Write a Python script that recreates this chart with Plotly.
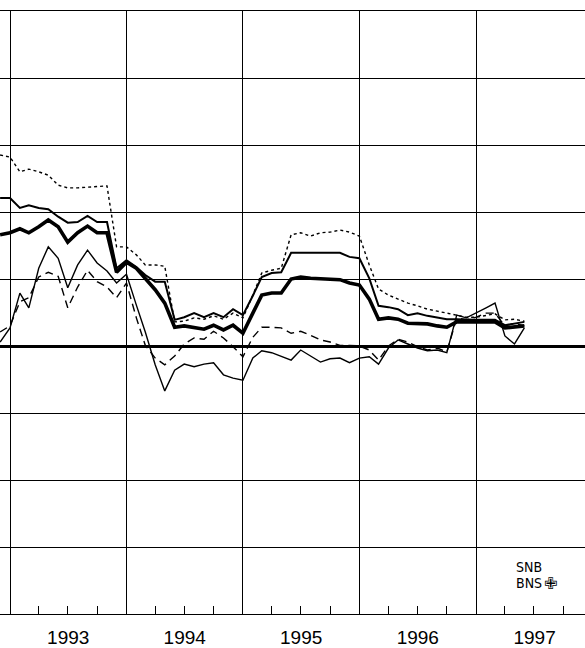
import pandas as pd
import plotly.graph_objects as go

# Monthly observations, Dec 1992 .. Jun 1997
dates = pd.date_range("1992-12-01", periods=55, freq="MS")

dotted_series = [2.85, 2.82, 2.60, 2.64, 2.60, 2.55, 2.40, 2.36, 2.36, 2.37, 2.39, 2.39,
                 1.48, 1.48, 1.36, 1.21, 1.21, 1.19, 0.36, 0.37, 0.42, 0.40, 0.45, 0.40,
                 0.49, 0.42, 0.76, 1.09, 1.13, 1.16, 1.66, 1.69, 1.64, 1.69, 1.70, 1.73,
                 1.70, 1.64, 1.21, 0.85, 0.76, 0.70, 0.64, 0.60, 0.55, 0.52, 0.49, 0.46,
                 0.43, 0.43, 0.46, 0.48, 0.39, 0.40, 0.37]

thin_upper = [2.21, 2.21, 2.06, 2.10, 2.06, 2.04, 1.93, 1.84, 1.85, 1.94, 1.85, 1.85,
              1.16, 1.28, 1.18, 1.06, 0.96, 0.96, 0.39, 0.43, 0.49, 0.43, 0.49, 0.43,
              0.55, 0.46, 0.75, 1.03, 1.09, 1.10, 1.39, 1.39, 1.39, 1.39, 1.39, 1.39,
              1.33, 1.31, 1.01, 0.60, 0.58, 0.55, 0.46, 0.49, 0.45, 0.42, 0.40, 0.40,
              0.39, 0.39, 0.39, 0.39, 0.31, 0.34, 0.36]

thick_series = [1.66, 1.69, 1.75, 1.69, 1.78, 1.88, 1.78, 1.55, 1.69, 1.79, 1.69, 1.69,
                1.10, 1.25, 1.16, 1.00, 0.84, 0.64, 0.28, 0.30, 0.28, 0.25, 0.31, 0.24,
                0.31, 0.19, 0.49, 0.76, 0.79, 0.79, 1.00, 1.03, 1.01, 1.00, 0.99, 0.99,
                0.94, 0.91, 0.70, 0.40, 0.42, 0.40, 0.34, 0.34, 0.33, 0.30, 0.28, 0.36,
                0.36, 0.36, 0.36, 0.36, 0.27, 0.28, 0.30]

dashed_series = [0.21, 0.30, 0.66, 0.72, 1.03, 1.10, 1.04, 0.57, 0.88, 1.13, 0.96, 0.88,
                 0.72, 0.94, 0.42, 0.01, -0.18, -0.28, -0.15, 0.03, 0.12, 0.10, 0.22, 0.12,
                 -0.01, -0.16, 0.13, 0.28, 0.28, 0.27, 0.19, 0.22, 0.16, 0.09, 0.06, 0.01,
                 0.01, 0.00, -0.06, -0.21, 0.00, 0.10, 0.06, -0.01, -0.06, -0.03, -0.09, 0.42,
                 0.39, 0.43, 0.49, 0.49, 0.30, 0.34, 0.30]

thin_lower = [0.06, 0.27, 0.79, 0.57, 1.16, 1.48, 1.31, 0.87, 1.21, 1.43, 1.24, 1.12,
              0.94, 1.07, 0.61, 0.21, -0.28, -0.67, -0.36, -0.27, -0.31, -0.27, -0.25, -0.43,
              -0.48, -0.51, -0.18, -0.07, -0.10, -0.15, -0.21, -0.06, -0.15, -0.24, -0.19, -0.18,
              -0.25, -0.18, -0.16, -0.27, -0.03, 0.09, 0.03, -0.03, -0.07, -0.06, -0.10, 0.46,
              0.42, 0.49, 0.57, 0.64, 0.15, 0.03, 0.27]

fig = go.Figure()
fig.add_trace(go.Scatter(x=dates, y=thin_lower, mode="lines",
                         line=dict(color="black", width=1.4)))
fig.add_trace(go.Scatter(x=dates, y=dashed_series, mode="lines",
                         line=dict(color="black", width=1.4, dash="8px,5px")))
fig.add_trace(go.Scatter(x=dates, y=dotted_series, mode="lines",
                         line=dict(color="black", width=1.4, dash="3px,3px")))
fig.add_trace(go.Scatter(x=dates, y=thin_upper, mode="lines",
                         line=dict(color="black", width=2.0)))
fig.add_trace(go.Scatter(x=dates, y=thick_series, mode="lines",
                         line=dict(color="black", width=3.6)))

fig.update_layout(
    width=585, height=648,
    margin=dict(l=0, r=0, t=11, b=34),
    paper_bgcolor="white", plot_bgcolor="white",
    showlegend=False,
    xaxis=dict(
        type="date",
        range=["1992-11-30 16:00", "1997-12-08"],
        tick0="1993-01-01", dtick="M12",
        ticklabelmode="period", tickformat="%Y",
        showgrid=True, gridcolor="black", gridwidth=1.2,
        showline=True, mirror=True, linecolor="black", linewidth=1.3,
        ticks="",
        minor=dict(dtick="M3", ticks="inside", ticklen=8, tickcolor="black",
                   tickwidth=1.2, showgrid=False),
        tickfont=dict(family="Liberation Sans, Arial", size=19, color="black"),
        ticklabelstandoff=6,
        fixedrange=True,
    ),
    yaxis=dict(
        range=[-4, 5], dtick=1, tick0=0,
        showgrid=True, gridcolor="black", gridwidth=1.2,
        showticklabels=False, ticks="",
        zeroline=True, zerolinecolor="black", zerolinewidth=3.2,
        fixedrange=True,
    ),
)

logo_font = dict(family="Liberation Sans Narrow, DejaVu Sans Condensed", size=14, color="black")
fig.add_annotation(text="SNB", xref="paper", yref="paper", x=515/585, y=(614 - 576) / 603,
                   xanchor="left", yanchor="bottom", showarrow=False, borderpad=0,
                   font=logo_font)
fig.add_annotation(text="BNS", xref="paper", yref="paper", x=515/585, y=(614 - 574) / 603,
                   xanchor="left", yanchor="top", showarrow=False, borderpad=0,
                   font=logo_font)
fig.add_annotation(text="\u2719", xref="paper", yref="paper", x=543/585, y=(614 - 573) / 603,
                   xanchor="left", yanchor="top", showarrow=False, borderpad=0,
                   font=dict(family="DejaVu Sans", size=16, color="black"))

fig.write_html("out.html", config={"displayModeBar": False},
               post_script="document.body.style.margin='0px';")
